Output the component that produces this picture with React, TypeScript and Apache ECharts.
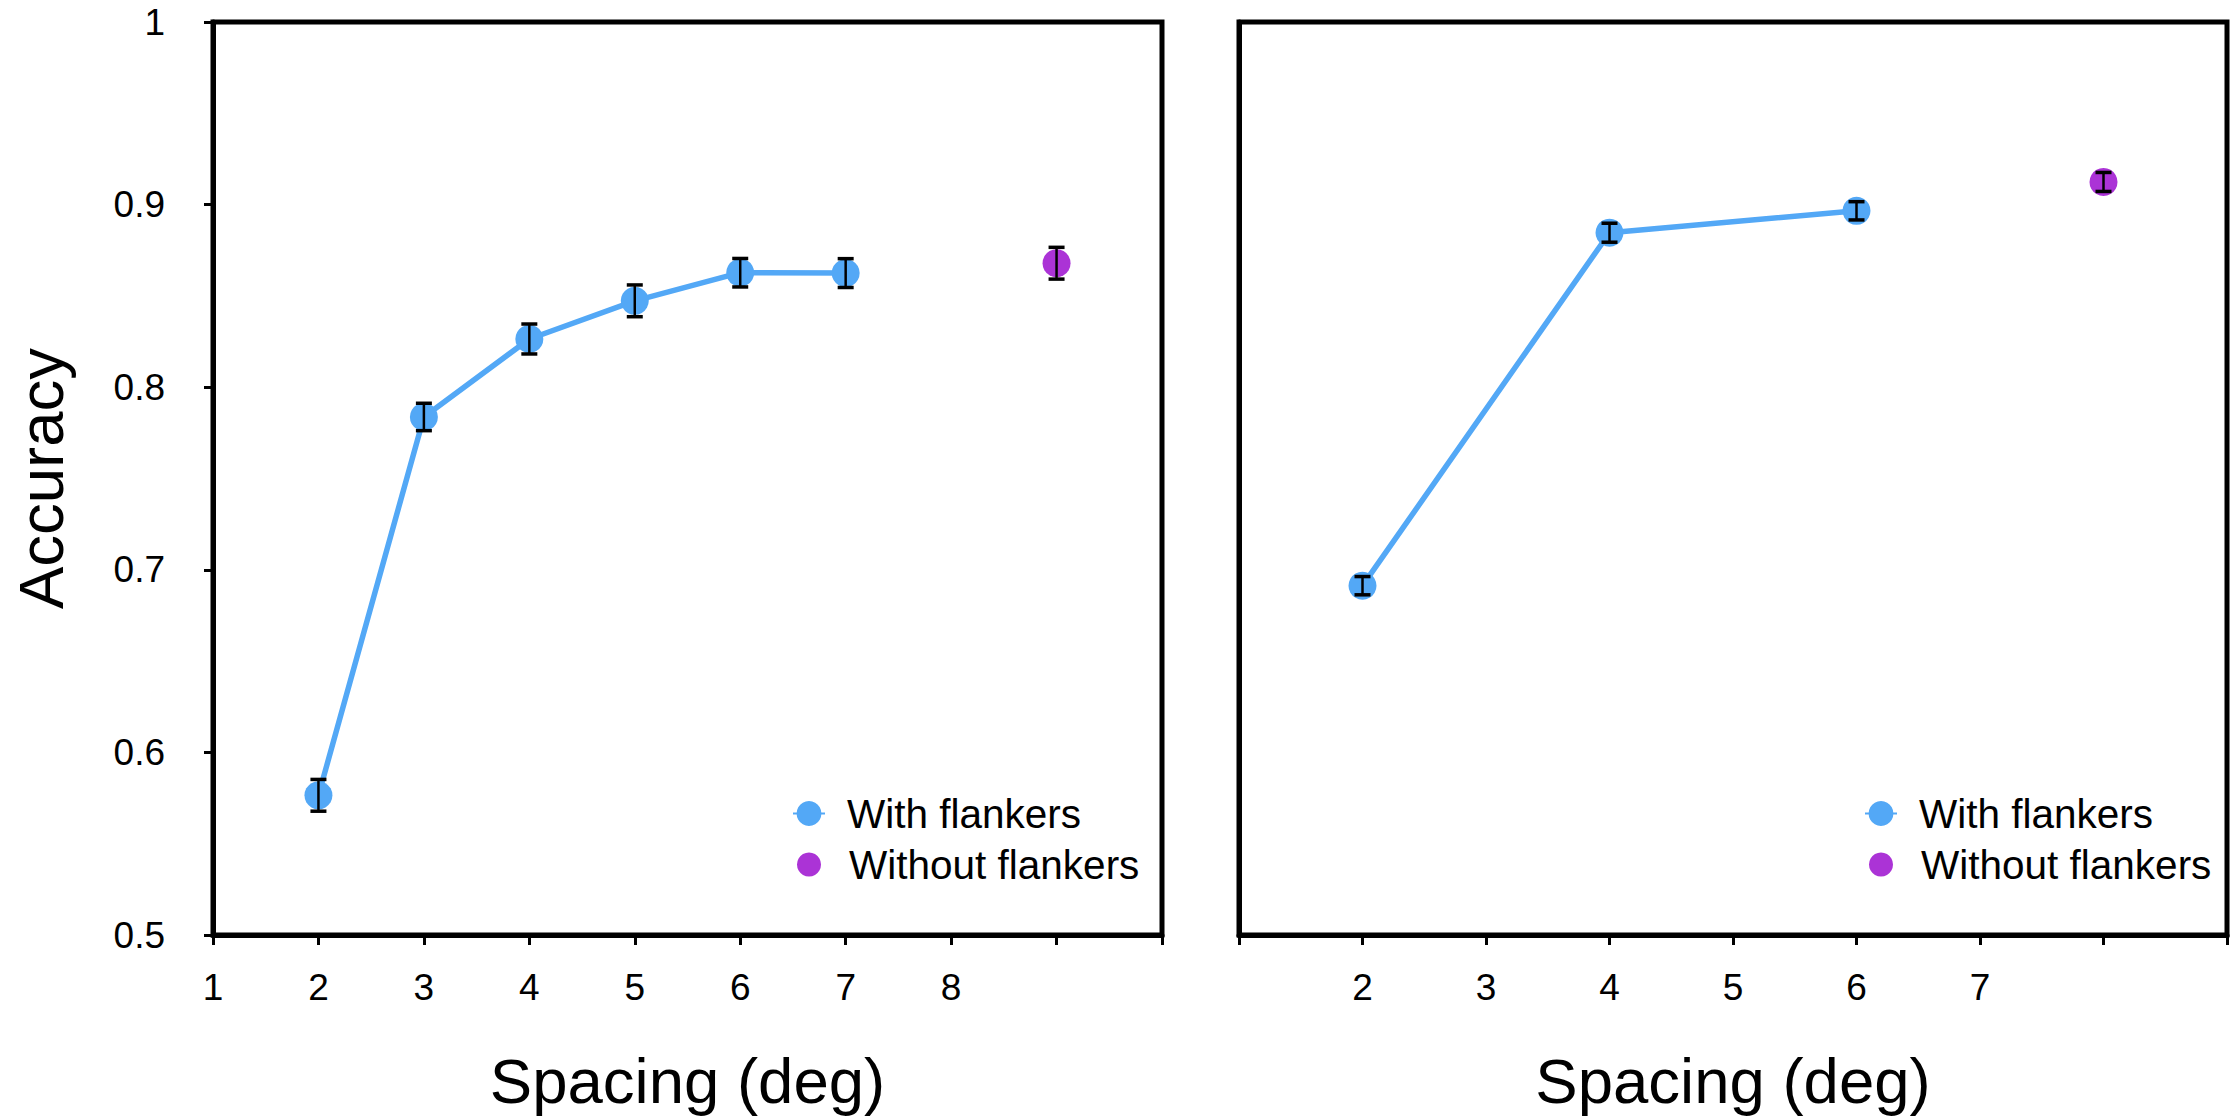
import React, { useEffect, useRef } from "react";
import * as echarts from "echarts";

// ---- Data ----
const leftWithX = [2, 3, 4, 5, 6, 7];
const leftWithY = [0.5765, 0.7837, 0.8264, 0.8473, 0.8627, 0.8625];
const leftWithErr = [0.0087, 0.0075, 0.0082, 0.0087, 0.0078, 0.0079];
const leftWithoutX = [9];
const leftWithoutY = [0.8679];
const leftWithoutErr = [0.0087];

const rightWithX = [2, 4, 6];
const rightWithY = [0.6913, 0.8846, 0.8966];
const rightWithErr = [0.005, 0.0052, 0.005];
const rightWithoutX = [8];
const rightWithoutY = [0.9124];
const rightWithoutErr = [0.0052];

const leftXLabels = [1, 2, 3, 4, 5, 6, 7, 8];
const rightXLabels = [2, 3, 4, 5, 6, 7];
const yTickLabels = ["0.5", "0.6", "0.7", "0.8", "0.9", "1"];

const SERIES_WITH = "With flankers";
const SERIES_WITHOUT = "Without flankers";
const X_NAME = "Spacing (deg)";
const Y_NAME = "Accuracy";

const BLUE = "#53A8F6";
const PURPLE = "#AB33D6";
const FONT = "Liberation Sans";

const pts = (xs: number[], ys: number[]) => xs.map((x, i) => [x, ys[i]]);
const errs = (xs: number[], ys: number[], es: number[]) =>
  xs.map((x, i) => [x, ys[i] - es[i], ys[i] + es[i]]);

const renderErr = (params: any, api: any) => {
  const x = api.value(0);
  const lo = api.coord([x, api.value(1)]);
  const hi = api.coord([x, api.value(2)]);
  const hw = 8;
  const st = { stroke: "#000", lineWidth: 2.5 };
  const cap = { stroke: "#000", lineWidth: 3.5 };
  return {
    type: "group",
    children: [
      { type: "line", shape: { x1: lo[0], y1: lo[1], x2: hi[0], y2: hi[1] }, style: st },
      { type: "line", shape: { x1: lo[0] - hw, y1: lo[1], x2: lo[0] + hw, y2: lo[1] }, style: cap },
      { type: "line", shape: { x1: hi[0] - hw, y1: hi[1], x2: hi[0] + hw, y2: hi[1] }, style: cap },
    ],
  };
};

export default function App() {
  const ref = useRef<HTMLDivElement>(null);
  useEffect(() => {
    if (!ref.current) return;
    const chart = echarts.init(ref.current, null, { renderer: "svg" });

    const xAxisBase = (labels: number[], max: number, gridIndex: number) => ({
      type: "value",
      gridIndex,
      min: 1,
      max,
      interval: 1,
      axisLine: { show: true, lineStyle: { color: "#000", width: 5 } },
      axisTick: { show: true, inside: false, length: 10, lineStyle: { color: "#000", width: 3 } },
      axisLabel: {
        show: true,
        margin: 34,
        fontSize: 37,
        fontFamily: FONT,
        color: "#000",
        showMinLabel: true,
        showMaxLabel: true,
        formatter: (v: number) => (labels.indexOf(Math.round(v)) >= 0 ? String(Math.round(v)) : ""),
      },
      splitLine: { show: false },
      name: X_NAME,
      nameLocation: "middle",
      nameGap: 114,
      nameTextStyle: { fontSize: 63.5, fontFamily: FONT, color: "#000" },
    });

    const legendBase = (name: string, left: number, top: number, ih: number, pad: number) => ({
      data: [name],
      left,
      top,
      orient: "vertical",
      padding: 0,
      itemWidth: 32,
      itemHeight: ih,
      selectedMode: false,
      textStyle: { fontSize: 40.5, fontFamily: FONT, color: "#000", padding: [0, 0, 0, pad] },
    });

    const option: any = {
      animation: false,
      backgroundColor: "#fff",
      grid: [
        { left: 213, top: 22, width: 949, height: 915, show: true, borderColor: "#000", borderWidth: 5, backgroundColor: "transparent" },
        { left: 1239, top: 22, width: 993, height: 915, show: true, borderColor: "#000", borderWidth: 5, backgroundColor: "transparent" },
      ],
      xAxis: [xAxisBase(leftXLabels, 10, 0), xAxisBase(rightXLabels, 9, 1)],
      yAxis: [
        {
          type: "value",
          gridIndex: 0,
          min: 0.5,
          max: 1,
          interval: 0.1,
          axisLine: { show: true, lineStyle: { color: "#000", width: 5 } },
          axisTick: { show: true, inside: false, length: 9, lineStyle: { color: "#000", width: 3 } },
          axisLabel: {
            margin: 48,
            fontSize: 37,
            fontFamily: FONT,
            color: "#000",
            formatter: (v: number) => yTickLabels[Math.round((v - 0.5) * 10)] ?? "",
          },
          splitLine: { show: false },
          name: Y_NAME,
          nameLocation: "middle",
          nameGap: 140,
          nameTextStyle: { fontSize: 63.5, fontFamily: FONT, color: "#000" },
        },
        {
          type: "value",
          gridIndex: 1,
          min: 0.5,
          max: 1,
          interval: 0.1,
          axisLine: { show: true, lineStyle: { color: "#000", width: 5 } },
          axisTick: { show: false },
          axisLabel: { show: false },
          splitLine: { show: false },
        },
      ],
      legend: [
        legendBase(SERIES_WITH, 792, 793, 31, 17),
        legendBase(SERIES_WITHOUT, 797, 844, 24, 19),
        legendBase(SERIES_WITH, 1864, 793, 31, 17),
        legendBase(SERIES_WITHOUT, 1869, 844, 24, 19),
      ],
      series: [
        {
          name: SERIES_WITH,
          type: "line",
          xAxisIndex: 0,
          yAxisIndex: 0,
          data: pts(leftWithX, leftWithY),
          symbol: "circle",
          symbolSize: 28,
          itemStyle: { color: BLUE, opacity: 1 },
          lineStyle: { color: BLUE, width: 5.5 },
          z: 2,
        },
        {
          name: SERIES_WITHOUT,
          type: "scatter",
          xAxisIndex: 0,
          yAxisIndex: 0,
          data: pts(leftWithoutX, leftWithoutY),
          symbol: "circle",
          symbolSize: 28,
          itemStyle: { color: PURPLE, opacity: 1 },
          z: 2,
        },
        {
          name: "err-left",
          type: "custom",
          xAxisIndex: 0,
          yAxisIndex: 0,
          data: errs(leftWithX.concat(leftWithoutX), leftWithY.concat(leftWithoutY), leftWithErr.concat(leftWithoutErr)),
          encode: { x: 0, y: [1, 2] },
          renderItem: renderErr,
          z: 5,
          silent: true,
        },
        {
          name: SERIES_WITH,
          type: "line",
          xAxisIndex: 1,
          yAxisIndex: 1,
          data: pts(rightWithX, rightWithY),
          symbol: "circle",
          symbolSize: 28,
          itemStyle: { color: BLUE, opacity: 1 },
          lineStyle: { color: BLUE, width: 5.5 },
          z: 2,
        },
        {
          name: SERIES_WITHOUT,
          type: "scatter",
          xAxisIndex: 1,
          yAxisIndex: 1,
          data: pts(rightWithoutX, rightWithoutY),
          symbol: "circle",
          symbolSize: 28,
          itemStyle: { color: PURPLE, opacity: 1 },
          z: 2,
        },
        {
          name: "err-right",
          type: "custom",
          xAxisIndex: 1,
          yAxisIndex: 1,
          data: errs(rightWithX.concat(rightWithoutX), rightWithY.concat(rightWithoutY), rightWithErr.concat(rightWithoutErr)),
          encode: { x: 0, y: [1, 2] },
          renderItem: renderErr,
          z: 5,
          silent: true,
        },
      ],
    };
    chart.setOption(option);
    return () => chart.dispose();
  }, []);

  return (
    <div
      ref={ref}
      style={{ position: "fixed", left: 0, top: 0, width: 2230, height: 1118, background: "#fff" }}
    />
  );
}
